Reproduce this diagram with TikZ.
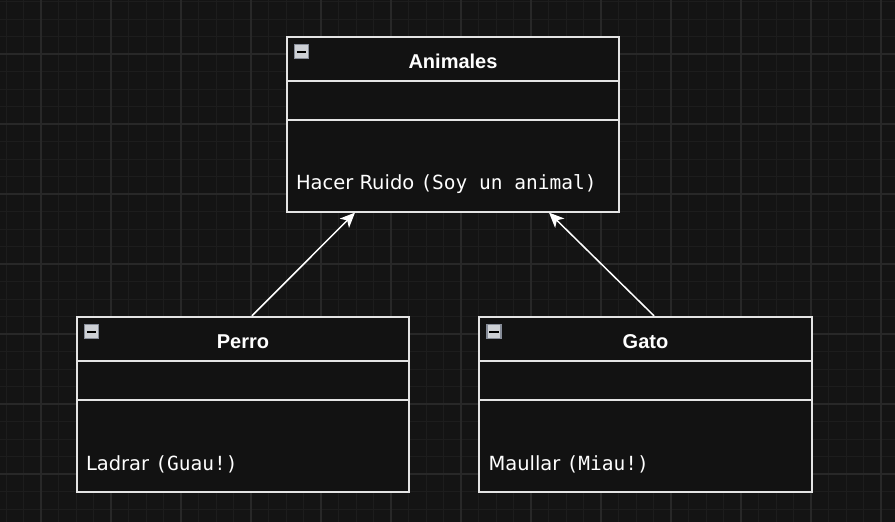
\documentclass[tikz,border=0pt]{standalone}
\usepackage{fontspec}
\setmainfont{Liberation Sans}
\setmonofont{DejaVu Sans Mono}
\newfontfamily\methodfont{DejaVu Sans}
\usetikzlibrary{arrows.meta}

\definecolor{canvasbg}{HTML}{141414}
\definecolor{gridminor}{HTML}{1D1D1D}
\definecolor{gridmajor}{HTML}{282828}
\definecolor{boxfill}{HTML}{121212}
\definecolor{boxline}{HTML}{E4E4E4}
\definecolor{iconfill}{HTML}{CDD0D5}
\definecolor{iconedge}{HTML}{868C98}

\begin{document}
\begin{tikzpicture}[x=1pt,y=-1pt,
    classbox/.style={draw=boxline,fill=boxfill,line width=1.8pt,inner sep=0pt,
        minimum width=332.6pt,minimum height=175pt},
    divider/.style={draw=boxline,line width=1.8pt},
    classtitle/.style={text=white,font=\fontsize{20}{24}\selectfont\bfseries,anchor=base},
    classmethod/.style={text=white,font=\fontsize{19.5}{23}\selectfont\methodfont,anchor=base west,inner sep=0pt},
    minusicon/.style={draw=iconedge,fill=iconfill,line width=1.5pt,minimum size=14pt,inner sep=0pt},
    inherit/.style={draw=white,line width=1.5pt,-{Stealth[length=15pt,width=13pt,inset=4pt]}}]

% Background and grid
\useasboundingbox[fill=canvasbg] (0,0) rectangle (895,522);
\foreach \gx in {0,...,50} \draw[gridminor,line width=1pt] ({6+17.5*\gx},0) -- ++(0,522);
\foreach \gy in {0,...,29} \draw[gridminor,line width=1pt] (0,{1.5+17.5*\gy}) -- ++(895,0);
\foreach \gx in {0,...,12} \draw[gridmajor,line width=1.2pt] ({41+70*\gx},0) -- ++(0,522);
\foreach \gy in {0,...,6} \draw[gridmajor,line width=1.2pt] (0,{54+70*\gy}) -- ++(895,0);

% Animales
\node[classbox] (animales) at (453,124.2) {};
\draw[divider] ([yshift=-45.3pt]animales.north west) -- ([yshift=-45.3pt]animales.north east);
\draw[divider] ([yshift=-84pt]animales.north west) -- ([yshift=-84pt]animales.north east);
\node[minusicon] (animalesicon) at ([xshift=15.8pt,yshift=-15.8pt]animales.north west) {};
\draw[black,line width=2pt] ([xshift=-4.8pt]animalesicon.center) -- ([xshift=4.8pt]animalesicon.center);
\node[classtitle] (animalestitle) at ([yshift=-32.3pt]animales.north) {Animales};
\node[classmethod] (animalesmethod) at ([xshift=10pt,yshift=-154pt]animales.north west)
    {Hacer Ruido {\ttfamily(Soy un animal)}};

% Perro
\node[classbox] (perro) at (243,404.2) {};
\draw[divider] ([yshift=-45.3pt]perro.north west) -- ([yshift=-45.3pt]perro.north east);
\draw[divider] ([yshift=-84pt]perro.north west) -- ([yshift=-84pt]perro.north east);
\node[minusicon] (perroicon) at ([xshift=15.8pt,yshift=-15.8pt]perro.north west) {};
\draw[black,line width=2pt] ([xshift=-4.8pt]perroicon.center) -- ([xshift=4.8pt]perroicon.center);
\node[classtitle] (perrotitle) at ([yshift=-32.3pt]perro.north) {Perro};
\node[classmethod] (perromethod) at ([xshift=10pt,yshift=-155pt]perro.north west)
    {Ladrar {\ttfamily(Guau!)}};

% Gato
\node[classbox] (gato) at (645.5,404.2) {};
\draw[divider] ([yshift=-45.3pt]gato.north west) -- ([yshift=-45.3pt]gato.north east);
\draw[divider] ([yshift=-84pt]gato.north west) -- ([yshift=-84pt]gato.north east);
\node[minusicon] (gatoicon) at ([xshift=15.8pt,yshift=-15.8pt]gato.north west) {};
\draw[black,line width=2pt] ([xshift=-4.8pt]gatoicon.center) -- ([xshift=4.8pt]gatoicon.center);
\node[classtitle] (gatotitle) at ([yshift=-32.3pt]gato.north) {Gato};
\node[classmethod] (gatomethod) at ([xshift=10pt,yshift=-155pt]gato.north west)
    {Maullar {\ttfamily(Miau!)}};

% Inheritance
\draw[inherit] ([xshift=9pt]perro.north) -- ([xshift=-98pt]animales.south);
\draw[inherit] ([xshift=8.5pt]gato.north) -- ([xshift=96pt]animales.south);

\end{tikzpicture}
\end{document}
